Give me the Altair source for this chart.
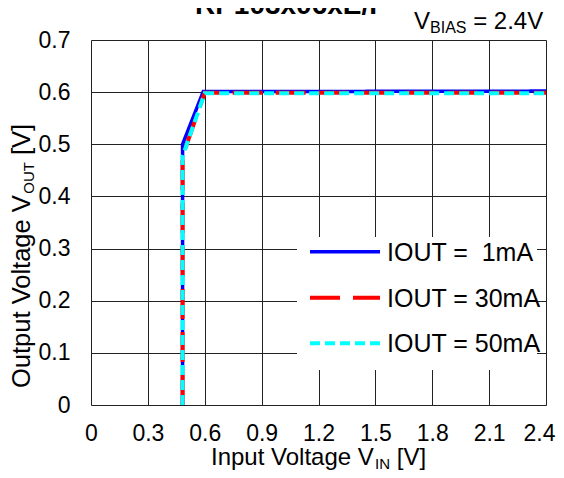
import altair as alt
import pandas as pd

# ---------------- data ----------------
TITLE = "RP103x06xE/I"
X_TICKS = [0, 0.3, 0.6, 0.9, 1.2, 1.5, 1.8, 2.1, 2.4]
Y_TICKS = [0, 0.1, 0.2, 0.3, 0.4, 0.5, 0.6, 0.7]
SERIES = ["IOUT =\u00a0 1mA", "IOUT = 30mA", "IOUT = 50mA"]

VIN_1MA = [0.483, 0.483, 0.592, 2.4]
VOUT_1MA = [0.0, 0.500, 0.601, 0.602]
VIN_30MA = [0.483, 0.483, 0.600, 2.4]
VOUT_30MA = [0.0, 0.477, 0.599, 0.599]
VIN_50MA = [0.483, 0.483, 0.600, 2.4]
VOUT_50MA = [0.0, 0.477, 0.598, 0.598]

# ---------------- styles ----------------
FONT = "Liberation Sans"
COLORS = ["#0000FF", "#FF0000", "#00FFFF"]
DASHES = [[1, 0], [30, 13], [10, 5]]
WIDTHS = [3.5, 4, 4]

W, H = 455, 365

def tw(s, size):
    m = {' ': 278, 'O': 778, 'u': 556, 't': 278, 'p': 556, 'V': 667, 'o': 556,
         'l': 222, 'a': 556, 'g': 556, 'e': 556, '[': 278, ']': 278, 'U': 722,
         'T': 611, 'I': 278, 'n': 556, 'N': 722, 'B': 667, 'A': 667, 'S': 667,
         '=': 584, '2': 556, '.': 278, '4': 556}
    return sum(m.get(c, 556) for c in s) * size / 1000.0

xs = alt.X("vin:Q", scale=alt.Scale(domain=[0, 2.4], nice=False, zero=False),
           axis=alt.Axis(values=X_TICKS, format=".1~f", title=None, grid=True,
                         gridColor="#222222", gridWidth=1, ticks=False, domain=False,
                         labelFontSize=23, labelFont=FONT, labelColor="black",
                         labelPadding=17, labelFlush=False, labelOverlap=False,
                         labelOffset={"condition": {"test": "datum.value >= 2.39",
                                                    "value": -7}, "value": 0}))
ys = alt.Y("vout:Q", scale=alt.Scale(domain=[0, 0.7], nice=False),
           axis=alt.Axis(values=Y_TICKS, format=".1~f", title=None, grid=True,
                         gridColor="#222222", gridWidth=1, ticks=False, domain=False,
                         labelFontSize=23, labelFont=FONT, labelColor="black",
                         labelPadding=21, labelFlush=False, labelOverlap=False))

series_data = [(VIN_1MA, VOUT_1MA), (VIN_30MA, VOUT_30MA), (VIN_50MA, VOUT_50MA)]
layers = []
for i, (vx, vy) in enumerate(series_data):
    df = pd.DataFrame({"vin": vx, "vout": vy, "idx": list(range(len(vx))),
                       "series": SERIES[i]})
    layers.append(
        alt.Chart(df).mark_line(color=COLORS[i], strokeWidth=WIDTHS[i],
                                strokeDash=DASHES[i], clip=False)
        .encode(x=xs if i == 0 else "vin:Q", y=ys if i == 0 else "vout:Q",
                order="idx:Q")
    )

one = pd.DataFrame({"a": [0]})

# legend box
layers.append(alt.Chart(one).mark_rect(color="white").encode(
    x=alt.value(206), x2=alt.value(446), y=alt.value(197), y2=alt.value(330)))
LEG_Y = [211.7, 257.7, 303.3]
for i, lab in enumerate(SERIES):
    layers.append(alt.Chart(one).mark_rule(color=COLORS[i], strokeWidth=WIDTHS[i],
                                           strokeDash=DASHES[i]).encode(
        x=alt.value(219), x2=alt.value(289), y=alt.value(LEG_Y[i])))
    layers.append(alt.Chart(pd.DataFrame({"t": [lab]})).mark_text(
        font=FONT, fontSize=25, align="left", baseline="middle", color="black").encode(
        x=alt.value(296), y=alt.value(LEG_Y[i] + 1), text="t:N"))

def txt(s, x, y, size, align="left", angle=0, weight="normal"):
    return alt.Chart(pd.DataFrame({"t": [s]})).mark_text(
        font=FONT, fontSize=size, align=align, baseline="alphabetic", angle=angle,
        fontWeight=weight, color="black").encode(
        x=alt.value(x), y=alt.value(y), text="t:N")

# title (partly cut at the top, as in the reference)
layers.append(txt(TITLE, 195, -26, 28, align="center", weight="bold"))

# V_BIAS annotation
bx = 323
layers.append(txt("V", bx, -11, 24))
bx += tw("V", 24)
layers.append(txt("BIAS", bx, -7, 16))
bx += tw("BIAS", 16) + tw(" ", 24)
layers.append(txt("= 2.4V", bx, -11, 24))

# x axis title
xx = 120
layers.append(txt("Input Voltage V", xx, 425, 24))
xx += tw("Input Voltage V", 24)
layers.append(txt("IN", xx, 429, 15))
xx += tw("IN", 15) + tw(" ", 24)
layers.append(txt("[V]", xx, 425, 24))

# y axis title (rotated)
yy = 348
layers.append(txt("Output Voltage V", -61, yy, 25.5, angle=270))
yy -= tw("Output Voltage V", 25.5)
layers.append(txt("OUT", -57, yy, 15, angle=270))
yy -= tw("OUT", 15) + tw(" ", 25.5)
layers.append(txt("[V]", -61, yy, 25.5, angle=270))

chart = alt.layer(*layers).properties(
    width=W, height=H,
    autosize=alt.AutoSizeParams(type="none"),
    padding={"left": 83, "top": 32, "right": 10, "bottom": 65},
).configure_view(stroke="black", strokeWidth=1.5).configure(background="white")

chart.save("out.html", embed_options={"renderer": "svg", "actions": False})
